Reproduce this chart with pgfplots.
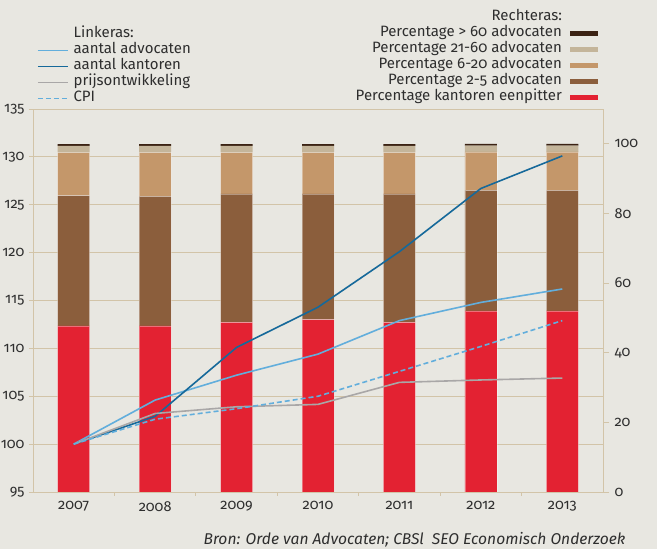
\documentclass[border=0pt]{standalone}
\usepackage{fontspec}
\setmainfont{Fira Sans}[Numbers=OldStyle]
\usepackage{pgfplots}
\usepackage{pgfplotstable}
\pgfplotsset{compat=1.18}
\definecolor{bg}{HTML}{E8E7E1}
\definecolor{gridc}{HTML}{D2C4A8}
\definecolor{txt}{HTML}{2E2E2E}
\definecolor{cred}{HTML}{E32232}
\definecolor{cbrown}{HTML}{8B5E3C}
\definecolor{ctan}{HTML}{C4976A}
\definecolor{clight}{HTML}{C4B59A}
\definecolor{cdark}{HTML}{3B2314}
\definecolor{lblue}{HTML}{62AEDC}
\definecolor{dblue}{HTML}{16699A}
\definecolor{cgray}{HTML}{A9A7A7}

\pgfplotstableread{
x red b25 b620 b2160 b60
0 47.7 37.4 12.4 1.9 0.5
1 47.7 37.2 12.6 1.9 0.5
2 48.7 36.9 11.9 1.9 0.5
3 49.5 36.1 11.9 1.9 0.5
4 48.7 36.9 11.9 1.9 0.5
5 52.0 34.6 11.1 1.8 0.5
6 52.0 34.6 11.1 1.8 0.5
}\bars

\pgfplotstableread{
x adv kant prijs cpi
0 100.0 100.0 100.0 100.0
1 104.6 102.9 103.2 102.6
2 107.2 110.1 103.9 103.7
3 109.4 114.3 104.15 105.0
4 112.9 120.1 106.45 107.6
5 114.8 126.7 106.7 110.2
6 116.2 130.1 106.9 112.9
}\lines

\pgfplotsset{
  common/.style={
    at={(0,0)}, anchor=south west,
    scale only axis, width=570pt, height=383pt,
    xmin=-0.5, xmax=6.5,
    /pgf/number format/assume math mode=true,
    tick label style={text=txt, font=\fontsize{14.5}{16}\selectfont},
    legend style={draw=none, fill=none, text=txt, inner sep=0pt, outer sep=0pt,
      row sep=3pt, font=\fontsize{15}{16}\selectfont,
      nodes={inner sep=0pt, text height=10pt, text depth=3pt}},
  }
}

\begin{document}
\begin{tikzpicture}[font=\fontsize{15}{16}\selectfont]
\path[use as bounding box] (-33pt,-57pt) rectangle (624pt,492pt);
\fill[bg] (-33pt,-57pt) rectangle (624pt,492pt);

% base axis: frame, grid, left ticks, x labels
\begin{axis}[common,
  ymin=95, ymax=135, ytick={95,100,...,135},
  ymajorgrids, grid style={gridc, line width=0.8pt},
  axis line style={gridc, line width=0.9pt},
  xtick={0,...,6}, xticklabels={2007,2008,2009,2010,2011,2012,2013},
  major x tick style={draw=none},
  minor xtick={0.5,1.5,2.5,3.5,4.5,5.5},
  minor tick length=4pt, major tick length=4pt,
  tick style={gridc, line width=0.8pt},
  tick align=outside, xtick pos=bottom, ytick pos=left,
  xticklabel style={yshift=-2pt},
  yticklabel style={xshift=-1pt},
]
\addplot[draw=none] coordinates {(0,100)};
\end{axis}

% bars on right axis
\begin{axis}[common,
  ymin=0, ymax=110, ytick={0,20,...,100},
  axis x line=none, axis y line*=right,
  axis line style={gridc, line width=0.9pt},
  tick style={gridc, line width=0.8pt}, major tick length=6pt, tick align=outside,
  yticklabel style={xshift=2pt},
  ybar stacked, bar width=32pt,
  reverse legend,
  legend plot pos=right, legend cell align=right,
  legend style={at={(0.991,1.256)}, anchor=north east,
    /tikz/every odd column/.append style={column sep=8pt}},
  legend image code/.code={\fill[#1,draw=none] (0pt,-2.7pt) rectangle (28pt,2.7pt);},
]
\addplot[fill=cred, draw=white, draw opacity=0.35, line width=0.5pt] table[x=x,y=red] {\bars};
\addlegendentry{Percentage kantoren eenpitter}
\addplot[fill=cbrown, draw=white, draw opacity=0.35, line width=0.5pt] table[x=x,y=b25] {\bars};
\addlegendentry{Percentage 2-5 advocaten}
\addplot[fill=ctan, draw=white, draw opacity=0.35, line width=0.5pt] table[x=x,y=b620] {\bars};
\addlegendentry{Percentage 6-20 advocaten}
\addplot[fill=clight, draw=none] table[x=x,y=b2160] {\bars};
\addlegendentry{Percentage 21-60 advocaten}
\addplot[fill=cdark, draw=none] table[x=x,y=b60] {\bars};
\addlegendentry{Percentage > 60 advocaten}
\addlegendimage{empty legend}
\addlegendentry{Rechteras:}
\end{axis}

% lines on left axis
\begin{axis}[common,
  ymin=95, ymax=135, hide axis,
  legend cell align=left,
  legend style={at={(0.007,1.2115)}, anchor=north west,
    /tikz/every odd column/.append style={column sep=5pt}},
  legend image code/.code={\draw[#1] (0pt,0pt) -- (30pt,0pt);},
]
\addlegendimage{empty legend}
\addlegendentry{Linkeras:}
\addplot[lblue, line width=1.6pt] table[x=x,y=adv] {\lines};
\addlegendentry{aantal advocaten}
\addplot[dblue, line width=1.6pt] table[x=x,y=kant] {\lines};
\addlegendentry{aantal kantoren}
\addplot[cgray, line width=1.6pt] table[x=x,y=prijs] {\lines};
\addlegendentry{prijsontwikkeling}
\addplot[lblue, line width=1.6pt, dash pattern=on 5pt off 3pt] table[x=x,y=cpi] {\lines};
\addlegendentry{CPI}
\end{axis}

\node[anchor=east, text=txt, font=\fontsize{15.6}{17}\selectfont\itshape] at (596pt,-48pt)
  {Bron: Orde van Advocaten; CBSl\ \ SEO Economisch Onderzoek};
\end{tikzpicture}
\end{document}
